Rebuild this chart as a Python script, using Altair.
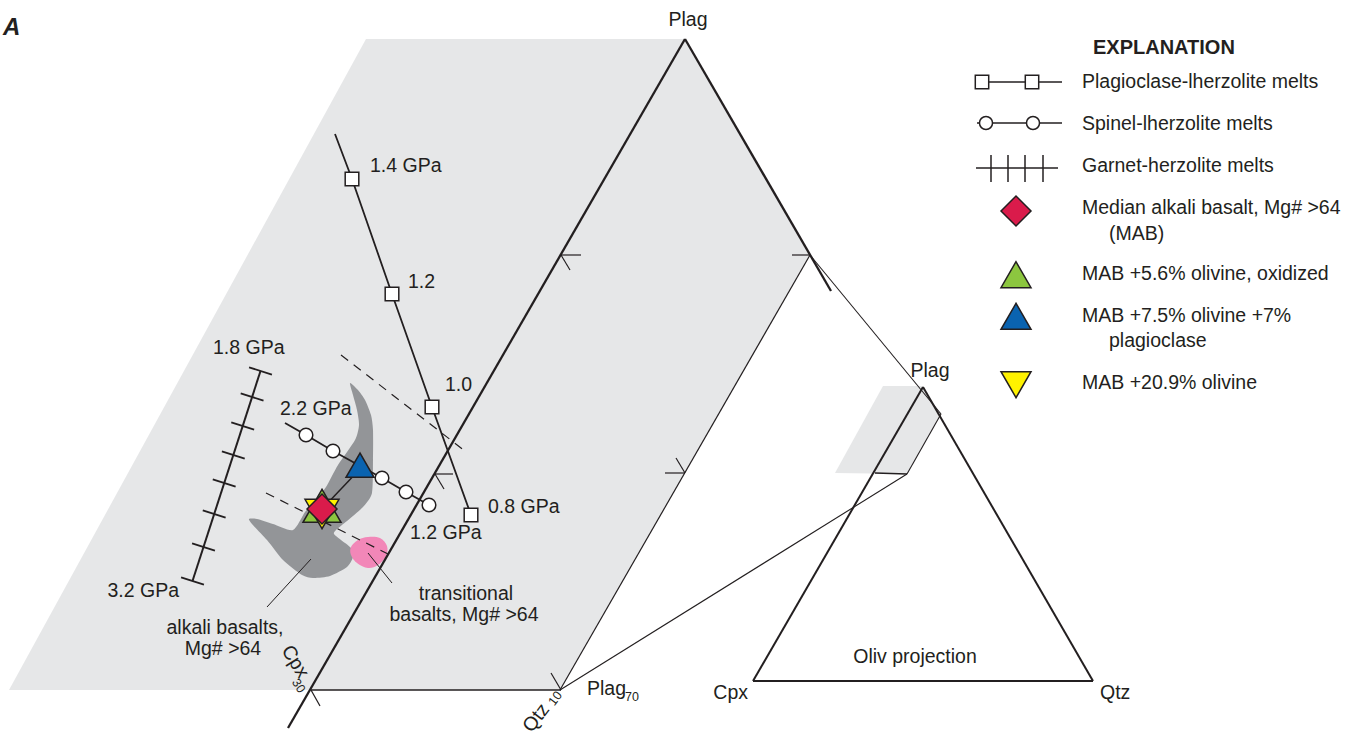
import math

import altair as alt
import pandas as pd

W, H = 1355, 738
INK = "#231f20"
FONT = "Liberation Sans, Arial, Helvetica, sans-serif"

# ---------------------------------------------------------------------------
# Diagram geometry, in page units (x to the right, y downward)
# ---------------------------------------------------------------------------

# shaded projection plane of the Plag-Cpx-Qtz prism
plane_x = [366, 685, 810, 560, 9]
plane_y = [39, 39, 255, 690, 690]

# the same plane as it appears in the olivine-projection triangle
inset_plane_x = [883, 922, 941, 907, 835]
inset_plane_y = [386, 386, 414, 474, 473]

# field of alkali basalts, Mg# > 64
alkali_x = [350, 358, 365, 371, 373, 373, 372, 363, 347, 336, 334, 341, 351, 353,
            347, 330, 313, 302, 283, 267, 252, 249, 257, 273, 293, 305, 316, 326,
            338, 355, 359, 357, 353]
alkali_y = [383, 390, 400, 415, 430, 460, 493, 507, 521, 530, 534, 540, 548, 557,
            567, 576, 578, 575, 560, 540, 524, 519, 519, 524, 530, 512, 499, 487,
            465, 440, 425, 410, 395]

# field of transitional basalts, Mg# > 64
trans_x = [351, 358, 368, 380, 387, 386, 378, 368, 357, 351]
trans_y = [547, 540, 537, 538, 546, 556, 565, 568, 563, 555]

# plagioclase-lherzolite melts: 1.4, 1.2, 1.0, 0.8 GPa
plag_lherz_x = [352, 392, 432, 471]
plag_lherz_y = [179, 294, 407, 515]
plag_lherz_start = (335, 134)

# spinel-lherzolite melts: 2.2 GPa ... 1.2 GPa
spinel_x = [306, 333, 382, 406, 429]
spinel_y = [435, 451, 478, 492, 505]
spinel_start = (285, 423)

# garnet-lherzolite melts: 1.8 GPa ... 3.2 GPa, every 0.2 GPa
garnet_x = [260.5, 252.1, 242.7, 233.3, 224.2, 214.2, 203.5, 192.5]
garnet_y = [371, 397, 426, 455, 483, 514, 547, 581]

# compositions: median alkali basalt (MAB) and its corrected versions
mab = (322, 509)
mab_ol = (322, 505.8)          # +5.6 % olivine, oxidized
mab_ol_plag = (360, 465.2)     # +7.5 % olivine +7 % plagioclase
mab_ol20 = (322, 514)          # +20.9 % olivine

RED, GREEN, BLUE, YELLOW = "#da1b4b", "#8cc63f", "#0a63b0", "#fff200"
LIGHT, DARK, PINK = "#e6e7e8", "#939598", "#f287b8"

# prism / projection linework: x1, y1, x2, y2, stroke width
frame_lines = [
    (685, 39, 288, 728, 2.3),    # Plag - Cpx30 edge (extended)
    (685, 39, 831, 291, 2.3),    # Plag - Qtz edge
    (810, 255, 560, 690, 1.2),   # back edge to Plag70
    (311, 690, 561, 690, 1.6),   # Cpx30 - Qtz10
    (810, 255, 941, 414, 1.1),   # projection rays to the inset
    (560, 690, 907, 474, 1.1),
    (875, 473, 907, 474, 1.5),   # inset plane outline
    (907, 474, 941, 414, 1.1),
    (923, 387, 753, 681, 2.0),   # olivine-projection triangle
    (753, 681, 1093, 681, 2.0),
    (1093, 681, 923, 387, 2.0),
    # arrow ticks on the prism edges
    (561, 255, 581, 255, 1.2), (561, 255, 570, 270, 1.2),
    (435, 474, 453, 474, 1.2), (435, 474, 444, 489, 1.2),
    (685, 473, 665, 473, 1.2), (685, 473, 676, 458, 1.2),
    (810, 255, 792, 255, 1.2),
    (311, 690, 320, 706, 1.2),
    (561, 690, 551, 673, 1.2),
    # leaders to the field labels
    (311, 559, 267, 607, 1.0),
    (368, 553, 392, 583, 1.0),
    # MAB to corrected composition
    (360, 469, mab[0], mab[1], 1.5),
]

dashed_lines = [
    (341, 355, 465, 451, 1.2),
    (266, 493, 390, 555, 1.2),
]

# garnet trend ticks (perpendicular to the trend)
gdx, gdy = garnet_x[-1] - garnet_x[0], garnet_y[-1] - garnet_y[0]
glen = math.hypot(gdx, gdy)
px, py = gdy / glen * 12, -gdx / glen * 12
garnet_lines = [(garnet_x[0], garnet_y[0], garnet_x[-1], garnet_y[-1], 2.0)] + [
    (gx - px, gy - py, gx + px, gy + py, 1.8) for gx, gy in zip(garnet_x, garnet_y)
]

# ---------------------------------------------------------------------------
# labels: x, y (baseline), text
# ---------------------------------------------------------------------------
labels_left = [
    (370, 172, "1.4 GPa"),
    (408, 288, "1.2"),
    (445, 391, "1.0"),
    (488, 513, "0.8 GPa"),
    (280, 415, "2.2 GPa"),
    (410, 539, "1.2 GPa"),
    (213, 354, "1.8 GPa"),
    (587, 695, "Plag"),
    (1100, 699, "Qtz"),
]
labels_right = [
    (179, 597, "3.2 GPa"),
    (748, 699, "Cpx"),
]
labels_center = [
    (225, 634, "alkali basalts,"),
    (223, 655, "Mg# >64"),
    (466, 600, "transitional"),
    (464, 621, "basalts, Mg# >64"),
    (688, 26, "Plag"),
    (930, 377, "Plag"),
    (915, 663, "Oliv projection"),
]
subscripts = [(625, 701, "70")]

# legend
legend_rows = [
    (1082, 88, "Plagioclase-lherzolite melts"),
    (1082, 130, "Spinel-lherzolite melts"),
    (1082, 172, "Garnet-herzolite melts"),
    (1082, 214, "Median alkali basalt, Mg# >64"),
    (1109, 240, "(MAB)"),
    (1082, 280, "MAB +5.6% olivine, oxidized"),
    (1082, 322, "MAB +7.5% olivine +7%"),
    (1109, 347, "plagioclase"),
    (1082, 389, "MAB +20.9% olivine"),
]
legend_lines = [
    (975, 82, 1062, 82, 1.5),
    (977, 123, 1062, 123, 1.5),
    (976, 168, 1058, 168, 1.5),
    (991, 155, 991, 182, 1.5),
    (1008, 155, 1008, 182, 1.5),
    (1025, 155, 1025, 182, 1.5),
    (1043, 155, 1043, 182, 1.5),
]


# ---------------------------------------------------------------------------
# chart helpers
# ---------------------------------------------------------------------------
def xs(field="x"):
    return alt.X(f"{field}:Q", scale=alt.Scale(domain=[0, W], nice=False, zero=False), axis=None)


def ys(field="y"):
    return alt.Y(f"{field}:Q", scale=alt.Scale(domain=[0, H], nice=False, zero=False, reverse=True),
                 axis=None)


def polygon(px_, py_, color, interpolate="linear-closed", **kw):
    df = pd.DataFrame({"x": px_, "y": py_, "i": range(len(px_))})
    return alt.Chart(df).mark_line(interpolate=interpolate, filled=True, color=color,
                                   strokeWidth=0, **kw).encode(x=xs(), y=ys(), order="i:Q")


def polyline(px_, py_, width):
    df = pd.DataFrame({"x": px_, "y": py_, "i": range(len(px_))})
    return alt.Chart(df).mark_line(color=INK, strokeWidth=width).encode(x=xs(), y=ys(), order="i:Q")


def segments(rows, **kw):
    df = pd.DataFrame(rows, columns=["x", "y", "x2", "y2", "w"])
    return alt.Chart(df).mark_rule(color=INK, strokeCap="butt", **kw).encode(
        x=xs(), y=ys(), x2="x2:Q", y2="y2:Q",
        strokeWidth=alt.StrokeWidth("w:Q", scale=None))


def symbols(px_, py_, shape, fill, size, sw=1.5):
    df = pd.DataFrame({"x": px_, "y": py_})
    return alt.Chart(df).mark_point(shape=shape, filled=True, color=fill, fill=fill, stroke=INK,
                                    strokeWidth=sw, size=size, opacity=1).encode(x=xs(), y=ys())


def texts(rows, align="left", size=19.5, weight="normal", style="normal",
          baseline="alphabetic", angle=0):
    df = pd.DataFrame(rows, columns=["x", "y", "text"])
    return alt.Chart(df).mark_text(align=align, baseline=baseline, font=FONT, fontSize=size,
                                   fontWeight=weight, fontStyle=style, angle=angle,
                                   color=INK).encode(x=xs(), y=ys(), text="text:N")


layers = [
    polygon(plane_x, plane_y, LIGHT),
    polygon(inset_plane_x, inset_plane_y, LIGHT),
    polygon(alkali_x, alkali_y, DARK, interpolate="cardinal-closed", tension=0.3),
    polygon(trans_x, trans_y, PINK, interpolate="cardinal-closed"),
    segments(dashed_lines, strokeDash=[9, 7]),
    segments(frame_lines),
    segments(garnet_lines),
    polyline([plag_lherz_start[0]] + plag_lherz_x, [plag_lherz_start[1]] + plag_lherz_y, 1.8),
    symbols(plag_lherz_x, plag_lherz_y, "square", "white", 185),
    polyline([spinel_start[0]] + spinel_x, [spinel_start[1]] + spinel_y, 1.8),
    symbols(spinel_x, spinel_y, "circle", "white", 185),
    symbols([mab_ol_plag[0]], [mab_ol_plag[1]], "triangle-up", BLUE, 784),
    symbols([mab_ol[0]], [mab_ol[1]], "triangle-up", GREEN, 1444),
    symbols([mab_ol20[0]], [mab_ol20[1]], "triangle-down", YELLOW, 1156),
    symbols([mab[0]], [mab[1]], "diamond", RED, 900),
    texts(labels_left),
    texts(labels_right, align="right"),
    texts(labels_center, align="center"),
    texts(subscripts, size=12.5),
    texts([(286, 647, "Cpx")], baseline="middle", angle=58),
    texts([(295, 680, "30")], size=12.5, baseline="middle", angle=58),
    texts([(527, 730, "Qtz")], baseline="middle", angle=307),
    texts([(551, 704, "10")], size=12.5, baseline="middle", angle=307),
    texts([(3, 35, "A")], size=24, weight="bold", style="italic"),
    # legend
    texts([(1093, 54, "EXPLANATION")], size=20, weight="bold"),
    texts(legend_rows),
    segments(legend_lines),
    symbols([982, 1032], [82, 82], "square", "white", 180),
    symbols([986, 1033], [123, 123], "circle", "white", 170),
    symbols([1016], [211], "diamond", RED, 900),
    symbols([1016], [274.7], "triangle-up", GREEN, 900),
    symbols([1016], [316.3], "triangle-up", BLUE, 900),
    symbols([1016], [384.7], "triangle-down", YELLOW, 900),
]

chart = alt.layer(*layers).properties(
    width=W, height=H, padding=0, background="white",
    autosize=alt.AutoSizeParams(type="none"),
).configure_view(strokeWidth=0)

chart.save("out.html", embed_options={"renderer": "svg", "actions": False})
